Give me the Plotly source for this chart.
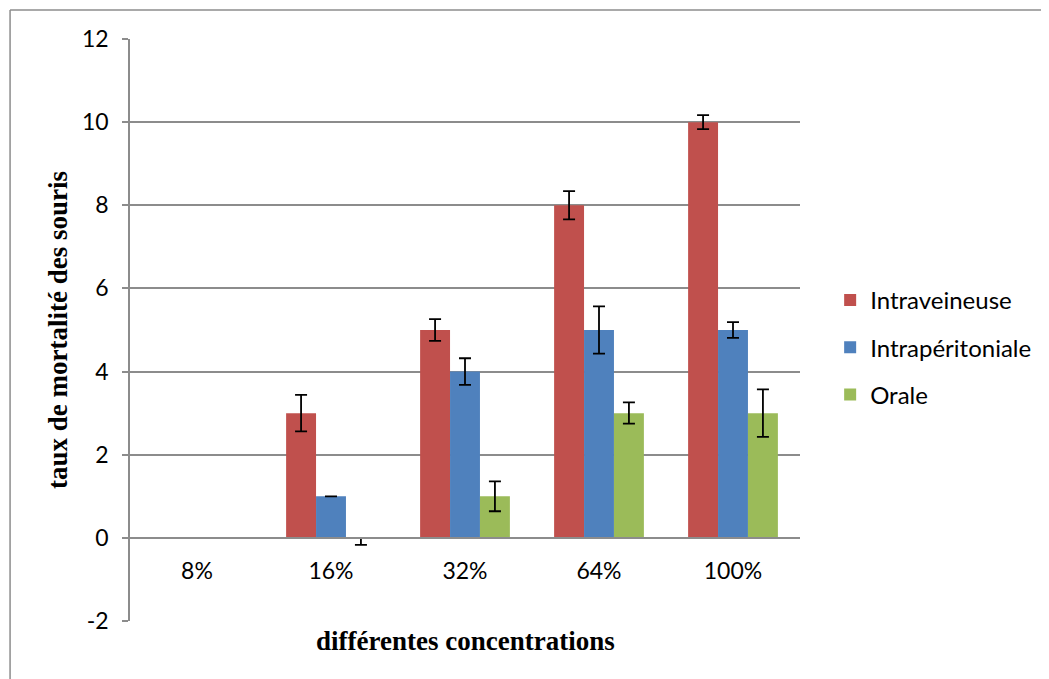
import plotly.graph_objects as go

categories = ["8%", "16%", "32%", "64%", "100%"]
series_names = ["Intraveineuse", "Intrapéritoniale", "Orale"]
intraveineuse = [0, 3, 5, 8, 10]
intraperitoniale = [0, 1, 4, 5, 5]
orale = [0, 0, 1, 3, 3]
err_intraveineuse = [0, 0.44, 0.26, 0.34, 0.17]
err_intraperitoniale = [0, 0, 0.32, 0.57, 0.19]
err_orale_plus = [0, 0, 0.36, 0.26, 0.57]
err_orale_minus = [0, 0.17, 0.36, 0.25, 0.57]
colors = ["#C0504D", "#4F81BD", "#9BBB59"]
y_ticks = [-2, 0, 2, 4, 6, 8, 10, 12]
y_title = "taux de mortalité des souris"
x_title = "différentes concentrations"

values = [intraveineuse, intraperitoniale, orale]
errs = [
    dict(type="data", array=err_intraveineuse, symmetric=True),
    dict(type="data", array=err_intraperitoniale, symmetric=True),
    dict(type="data", array=err_orale_plus, arrayminus=err_orale_minus, symmetric=False),
]

GRID = "#8C8C8C"
TICKFONT = dict(family="Lato, Carlito, Calibri, sans-serif", size=23, color="#000000")
LEGENDFONT = dict(family="Lato, Carlito, Calibri, sans-serif", size=24, color="#000000")
TITLEFONT = dict(family="Liberation Serif, Times New Roman, serif", size=27, color="#000000", weight="bold")

fig = go.Figure()
for name, vals, err, col in zip(series_names, values, errs, colors):
    e = dict(err)
    e.update(color="#000000", thickness=1.8, width=6, visible=True)
    fig.add_trace(go.Bar(
        x=categories, y=vals, name=name, marker_color=col,
        marker_line_width=0, error_y=e, legendgroup=name,
    ))

fig.update_layout(
    width=1041, height=671,
    margin=dict(l=122, r=249, t=31, b=58),
    paper_bgcolor="white", plot_bgcolor="white",
    barmode="group", bargap=0.33, bargroupgap=0,
    showlegend=True,
    legend=dict(
        x=1.045, xanchor="left", y=0.47, yanchor="middle",
        font=LEGENDFONT, tracegroupgap=13, itemwidth=30,
        bgcolor="rgba(0,0,0,0)",
    ),
    xaxis=dict(
        anchor="free", position=2 / 14,
        showline=True, linecolor=GRID, linewidth=1.5,
        ticks="", tickfont=TICKFONT, ticklabelstandoff=13,
        showgrid=False, zeroline=False,
    ),
    yaxis=dict(
        range=[-2, 12], tickvals=y_ticks, ticktext=[str(v) for v in y_ticks],
        showgrid=True, gridcolor=GRID, gridwidth=1.5,
        showline=True, linecolor=GRID, linewidth=1.5,
        ticks="outside", ticklen=6, tickcolor=GRID, tickwidth=1.5,
        tickfont=TICKFONT, ticklabelstandoff=9,
        zeroline=False,
    ),
    annotations=[
        dict(text=x_title, xref="paper", yref="paper", x=0.5, y=-0.0344,
             xanchor="center", yanchor="middle", showarrow=False,
             font=TITLEFONT),
        dict(text=y_title, xref="paper", yref="paper", x=-0.1075, y=0.5,
             xanchor="center", yanchor="middle", textangle=-90, showarrow=False,
             font=TITLEFONT),
    ],
    shapes=[
        dict(type="line", xref="paper", yref="paper", x0=-0.179, x1=-0.179,
             y0=-0.2, y1=1.0498, line=dict(color="#8C8C8C", width=1.5)),
        dict(type="line", xref="paper", yref="paper", x0=-0.179, x1=1.5,
             y0=1.0498, y1=1.0498, line=dict(color="#8C8C8C", width=1.5)),
    ],
)

fig.write_html("out.html")
